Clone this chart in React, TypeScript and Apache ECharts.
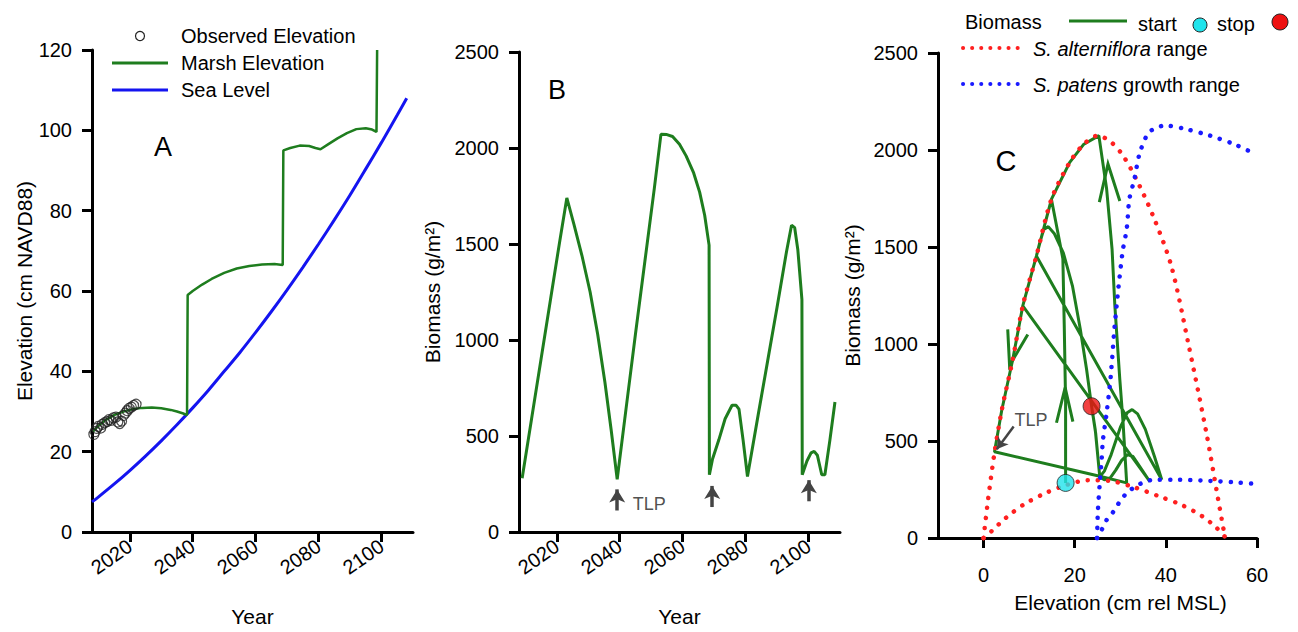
import React, { useEffect, useRef } from "react";
import * as echarts from "echarts";

const FONT = "'Liberation Sans', Arial, Helvetica, sans-serif";
const GREEN = "#1e7d1e";
const BLUE = "#1414f0";
const RED_DOT = "#ff2020";
const BLUE_DOT = "#1a1aff";

// ---------- Panel A ----------
const yearTicks = [2020, 2040, 2060, 2080, 2100];

const observedElevation: [number, number][] = [
  [2008.6, 24.3], [2009.0, 25.0], [2009.5, 25.8], [2010.0, 26.3], [2010.8, 25.9],
  [2011.3, 26.8], [2012.0, 27.2], [2012.8, 27.5], [2013.4, 28.0], [2014.0, 27.8],
  [2014.8, 28.4], [2015.6, 28.6], [2016.2, 27.4], [2016.8, 27.0], [2017.4, 27.6],
  [2018.0, 29.0], [2018.6, 29.6], [2019.2, 30.2], [2019.8, 30.8], [2020.5, 31.1],
  [2021.2, 31.5], [2022.0, 31.8],
];

const marshElevation: [number, number][] = [
  [2008.3, 25.0], [2010, 26.4], [2012, 27.7], [2015, 29.1], [2018, 30.0], [2021, 30.6],
  [2024, 30.9], [2027, 31.0], [2030, 30.8], [2033, 30.4], [2035, 30.0], [2037, 29.5],
  [2038.2, 29.1], [2038.4, 59.0], [2040, 60.0], [2043, 61.6], [2046, 63.0], [2050, 64.5],
  [2054, 65.6], [2058, 66.2], [2062, 66.6], [2066, 66.7], [2068.6, 66.5], [2068.8, 95.0],
  [2071, 95.6], [2074, 96.2], [2077, 96.1], [2079, 95.6], [2080.6, 95.3], [2083, 96.5],
  [2086, 98.0], [2089, 99.3], [2092, 100.3], [2095, 100.5], [2097, 100.2], [2098.4, 99.6],
  [2098.6, 120.0],
];

const seaLevel: [number, number][] = [
  [2008, 7.5], [2010, 8.7], [2015, 11.9], [2020, 15.3], [2025, 18.9], [2030, 22.7],
  [2035, 26.7], [2040, 30.9], [2045, 35.3], [2050, 40.0], [2055, 44.7], [2060, 49.7],
  [2065, 54.9], [2070, 60.3], [2075, 65.9], [2080, 71.7], [2085, 77.7], [2090, 83.9],
  [2095, 90.4], [2100, 97.0], [2105, 103.8], [2108, 108.0],
];

// ---------- Panel B ----------
const biomassB: [number, number][] = [
  [2009.0, 280], [2012, 590], [2015, 900], [2018, 1210], [2021, 1520], [2023.2, 1740],
  [2025.5, 1600], [2028, 1440], [2030.6, 1250], [2033, 1030], [2035.3, 780],
  [2037.3, 530], [2039.2, 275], [2042, 640], [2045, 1030], [2048, 1410], [2051, 1790],
  [2053.1, 2071], [2055.0, 2070], [2056.8, 2060], [2059, 2020], [2061.1, 1959],
  [2063.5, 1870], [2065.4, 1770], [2067, 1650], [2068.4, 1494], [2068.5, 298],
  [2069.5, 380], [2071.5, 480], [2073.5, 590], [2075.7, 660], [2077, 660], [2077.9, 640],
  [2079.2, 480], [2080.6, 289], [2084, 610], [2087, 890], [2090, 1170], [2093, 1460],
  [2094.6, 1598], [2095.6, 1585], [2096.6, 1470], [2097.9, 1210],
  [2098.0, 298], [2099.5, 370], [2100.8, 412], [2101.8, 420], [2102.8, 400],
  [2104.2, 298], [2105.2, 298], [2106.8, 480], [2108.4, 677],
];
const tlpArrowsB: [number, number, number][] = [
  [2039.2, 112, 222],
  [2069.4, 130, 240],
  [2100.1, 160, 270],
];
const tlpLabelB: [number, number] = [2044, 145];

// ---------- Panel C ----------
const elevTicksC = [0, 20, 40, 60];
const trajectoryC: [number, number][] = [
  [18.0, 284], [18.0, 700], [17.7, 1100], [17.4, 1440], [14.9, 1745],
  [11.6, 1454], [8.6, 1196], [6.4, 920], [4.0, 660], [2.4, 445],
  [25.5, 318], [31.4, 284],
  [30.6, 600], [29.9, 816], [28.8, 1200], [28.2, 1488], [27.0, 1800], [25.3, 2074],
  [22.0, 2030], [18.9, 1936], [14.9, 1747], [11.6, 1454],
  [39.1, 300], [37.5, 420], [35.5, 560], [33.8, 640], [32.6, 662], [31.5, 645],
  [30.0, 570], [28.0, 430], [26.5, 345], [25.5, 315],
  [24.5, 560], [23.7, 680], [22.6, 870], [21.2, 1080], [19.5, 1300], [17.5, 1470],
  [15.5, 1570], [14.2, 1605], [13.2, 1590], [12.3, 1520], [11.6, 1454], [8.6, 1196],
  [36.5, 290], [34.5, 360], [32.8, 420], [31.6, 430], [30.3, 400], [29.0, 350],
  [27.8, 310], [26.5, 300], [25.5, 315], [24.6, 540], [23.7, 679],
];
const alternifloraUpper: [number, number][] = [
  [0, 0], [1, 200], [2.4, 440], [4, 660], [6.4, 920], [8.6, 1196], [11.6, 1454],
  [14.9, 1747], [18.9, 1936], [22, 2030], [25.1, 2074], [28, 2040], [30.6, 1971],
  [33.5, 1850], [37.2, 1660], [41.2, 1402], [44.9, 1006], [48.9, 541], [51.5, 196], [53, 0],
];
const alternifloraLower: [number, number][] = [
  [0, 0], [2, 40], [4, 85], [6, 125], [9, 175], [13, 225], [18, 272], [23, 298],
  [27.5, 295], [33, 262], [38.5, 215], [43.5, 170], [48, 112], [51, 55], [53.2, 0],
];
const patensUpper: [number, number][] = [
  [24.9, 0], [25.1, 145], [25.5, 283], [25.9, 403], [26.2, 506], [27.0, 644],
  [27.9, 832], [28.7, 1075], [29.4, 1245], [30.5, 1475], [31.4, 1592], [32.0, 1747],
  [33.1, 1850], [34.2, 1979], [36.0, 2083], [37.5, 2110], [39.8, 2126], [44, 2110],
  [49.7, 2074], [55, 2030], [59.6, 1979],
];
const patensLower: [number, number][] = [
  [24.9, 0], [25.9, 41], [27.0, 93], [28.5, 136], [29.9, 188], [31.4, 231],
  [33.3, 265], [35.5, 291], [37.4, 300], [42.5, 300], [49.8, 294], [55, 287], [59.6, 279],
];
const startPoint: [number, number] = [18.0, 284];
const stopPoint: [number, number] = [23.7, 679];
const arrowsC: [number, number][][] = [
  [[16.0, 594], [17.9, 775], [19.6, 600]],
  [[5.3, 1075], [5.7, 889], [9.7, 1049]],
  [[25.4, 1731], [27.3, 1928], [29.9, 1737]],
];
const tlpArrowC: [number, number][] = [[6.6, 575], [2.9, 458]];
const tlpLabelC: [number, number] = [6.7, 608];

const fmt = (v: number) => String(v);
const mkAxisLine = (onZero: boolean) => ({ show: true, onZero, lineStyle: { color: "#000", width: 3 } });
const mkTick = (custom?: number[]) => {
  const t: any = { show: true, length: 10, lineStyle: { color: "#000", width: 3 } };
  if (custom) t.customValues = custom;
  return t;
};
const mkLabel = (extra: any) => ({ color: "#000", fontSize: 20, fontFamily: FONT, formatter: fmt, ...extra });
const mkName = (extra?: any) => ({ color: "#000", fontSize: 21, fontFamily: FONT, ...(extra || {}) });
const textEl = (x: number, y: number, text: string, size = 20, align = "left") => ({
  type: "text", x, y, style: { text, fontSize: size, fontFamily: FONT, fill: "#000", align, verticalAlign: "middle" },
});

function buildOption() {
  const xAxis: any[] = [0, 1].map((g) => ({
    type: "value", gridIndex: g, min: 2008, max: 2110, splitLine: { show: false },
    axisLine: mkAxisLine(true), axisTick: mkTick(yearTicks),
    axisLabel: mkLabel({ customValues: yearTicks, rotate: 35, margin: 12 }),
    name: "Year", nameLocation: "middle", nameGap: 74, nameTextStyle: mkName(),
  }));
  xAxis.push({
    type: "value", gridIndex: 2, min: -10, max: 60, splitLine: { show: false },
    axisLine: mkAxisLine(true), axisTick: mkTick(elevTicksC),
    axisLabel: mkLabel({ customValues: elevTicksC, margin: 27 }),
    name: "Elevation (cm rel MSL)", nameLocation: "middle", nameGap: 54,
    nameTextStyle: mkName({ padding: [0, 0, 0, 46] }),
  });
  const yAxis: any[] = [
    { type: "value", gridIndex: 0, min: 0, max: 120, interval: 20, splitLine: { show: false }, axisLine: mkAxisLine(true), axisTick: mkTick(), axisLabel: mkLabel({ margin: 20 }), name: "Elevation (cm NAVD88)", nameLocation: "middle", nameGap: 52, nameTextStyle: mkName() },
    { type: "value", gridIndex: 1, min: 0, max: 2500, interval: 500, splitLine: { show: false }, axisLine: mkAxisLine(true), axisTick: mkTick(), axisLabel: mkLabel({ margin: 20 }), name: "Biomass (g/m²)", nameLocation: "middle", nameGap: 76, nameTextStyle: mkName() },
    { type: "value", gridIndex: 2, min: 0, max: 2500, interval: 500, splitLine: { show: false }, axisLine: mkAxisLine(false), axisTick: mkTick(), axisLabel: mkLabel({ margin: 20 }), name: "Biomass (g/m²)", nameLocation: "middle", nameGap: 75, nameTextStyle: mkName() },
  ];
  const series: any[] = [
    { type: "line", xAxisIndex: 0, yAxisIndex: 0, data: seaLevel, smooth: 0.3, showSymbol: false, clip: false, lineStyle: { color: BLUE, width: 3 }, z: 2 },
    { type: "line", xAxisIndex: 0, yAxisIndex: 0, data: marshElevation, showSymbol: false, clip: false, lineStyle: { color: GREEN, width: 2.5 }, z: 3 },
    { type: "scatter", xAxisIndex: 0, yAxisIndex: 0, data: observedElevation, clip: false, symbol: "circle", symbolSize: 10, itemStyle: { color: "rgba(255,255,255,0)", borderColor: "#222", borderWidth: 1.2 }, z: 4 },
    {
      type: "line", xAxisIndex: 1, yAxisIndex: 1, data: biomassB, showSymbol: false, clip: false, lineStyle: { color: GREEN, width: 3 },
      markLine: {
        silent: true, symbol: ["none", "arrow"], symbolSize: [12, 13],
        lineStyle: { color: "#444", width: 3.5, type: "solid" }, label: { show: false },
        data: tlpArrowsB.map(([x, a, b]) => [{ coord: [x, a] }, { coord: [x, b] }]),
      },
    },
    { type: "scatter", xAxisIndex: 1, yAxisIndex: 1, data: [tlpLabelB], clip: false, symbolSize: 1, itemStyle: { color: "rgba(0,0,0,0)" }, label: { show: true, position: "right", distance: 0, formatter: "TLP", fontSize: 18, color: "#222", fontFamily: FONT } },
    {
      type: "line", xAxisIndex: 2, yAxisIndex: 2, data: trajectoryC, showSymbol: false, clip: false, lineStyle: { color: GREEN, width: 3 }, z: 2,
      markLine: { silent: true, symbol: ["none", "arrow"], symbolSize: [10, 11], lineStyle: { color: "#444", width: 2.5, type: "solid" }, label: { show: false }, data: [[{ coord: tlpArrowC[0] }, { coord: tlpArrowC[1] }]] },
    },
    { type: "lines", coordinateSystem: "cartesian2d", xAxisIndex: 2, yAxisIndex: 2, polyline: true, clip: false, lineStyle: { color: GREEN, width: 3, opacity: 1 }, z: 2, data: arrowsC.map((c) => ({ coords: c })) },
    { type: "scatter", xAxisIndex: 2, yAxisIndex: 2, data: [tlpLabelC], clip: false, symbolSize: 1, itemStyle: { color: "rgba(0,0,0,0)" }, label: { show: true, position: "right", distance: 0, formatter: "TLP", fontSize: 18, color: "#222", fontFamily: FONT } },
  ];
  ([
    [alternifloraUpper, RED_DOT], [alternifloraLower, RED_DOT], [patensUpper, BLUE_DOT], [patensLower, BLUE_DOT],
  ] as [[number, number][], string][]).forEach(([d, c]) => series.push({
    type: "line", xAxisIndex: 2, yAxisIndex: 2, data: d, smooth: 0.3, showSymbol: false, clip: false, z: 3,
    lineStyle: { color: c, width: 4.5, type: [0.1, 10], cap: "round" },
  }));
  series.push({ type: "scatter", xAxisIndex: 2, yAxisIndex: 2, data: [startPoint], clip: false, symbolSize: 17, z: 5, itemStyle: { color: "#20e4ec", borderColor: "#222", borderWidth: 1 } });
  series.push({ type: "scatter", xAxisIndex: 2, yAxisIndex: 2, data: [stopPoint], clip: false, symbolSize: 17, z: 5, itemStyle: { color: "#ee1111", borderColor: "#222", borderWidth: 1 } });

  return {
    animation: false, backgroundColor: "#fff", textStyle: { fontFamily: FONT },
    grid: [
      { left: 92, top: 50, width: 321, height: 484 },
      { left: 519, top: 52, width: 321, height: 484 },
      { left: 938, top: 53, width: 319, height: 485 },
    ],
    xAxis, yAxis, series,
    graphic: [
      textEl(163, 147, "A", 27, "center"),
      textEl(557, 90, "B", 27, "center"),
      textEl(1006, 161, "C", 29, "center"),
      { type: "circle", shape: { cx: 140, cy: 36, r: 4.5 }, style: { fill: "#fff", stroke: "#222", lineWidth: 1.2 } },
      textEl(181, 36, "Observed Elevation"),
      { type: "line", shape: { x1: 112, y1: 63, x2: 168, y2: 63 }, style: { stroke: GREEN, lineWidth: 3 } },
      textEl(181, 63, "Marsh Elevation"),
      { type: "line", shape: { x1: 112, y1: 90, x2: 168, y2: 90 }, style: { stroke: BLUE, lineWidth: 3 } },
      textEl(181, 90, "Sea Level"),
      textEl(965, 22, "Biomass"),
      { type: "line", shape: { x1: 1069, y1: 21, x2: 1127, y2: 21 }, style: { stroke: GREEN, lineWidth: 3 } },
      textEl(1138, 24, "start"),
      { type: "circle", shape: { cx: 1200, cy: 25, r: 7 }, style: { fill: "#20e4ec", stroke: "#222", lineWidth: 1 } },
      textEl(1217, 24, "stop"),
      { type: "circle", shape: { cx: 1280, cy: 22, r: 8 }, style: { fill: "#ee1111", stroke: "#222", lineWidth: 1 } },
      { type: "line", shape: { x1: 963, y1: 48, x2: 1018, y2: 48 }, style: { stroke: RED_DOT, lineWidth: 4, lineDash: [0.1, 9], lineCap: "round" } },
      { type: "text", x: 1033, y: 49, style: { text: "{i|S. alterniflora} range", fontSize: 20, fontFamily: FONT, fill: "#000", verticalAlign: "middle", rich: { i: { fontStyle: "italic", fontSize: 20, fontFamily: FONT, fill: "#000" } } } },
      { type: "line", shape: { x1: 963, y1: 84, x2: 1018, y2: 84 }, style: { stroke: BLUE_DOT, lineWidth: 4, lineDash: [0.1, 9], lineCap: "round" } },
      { type: "text", x: 1033, y: 85, style: { text: "{i|S. patens} growth range", fontSize: 20, fontFamily: FONT, fill: "#000", verticalAlign: "middle", rich: { i: { fontStyle: "italic", fontSize: 20, fontFamily: FONT, fill: "#000" } } } },
    ],
  };
}

export default function App() {
  const ref = useRef<HTMLDivElement>(null);
  useEffect(() => {
    document.body.style.margin = "0";
    if (!ref.current) return;
    const chart = echarts.init(ref.current, undefined, { renderer: "svg" });
    chart.setOption(buildOption() as any);
    return () => chart.dispose();
  }, []);
  return <div ref={ref} style={{ width: 1298, height: 632 }} />;
}
